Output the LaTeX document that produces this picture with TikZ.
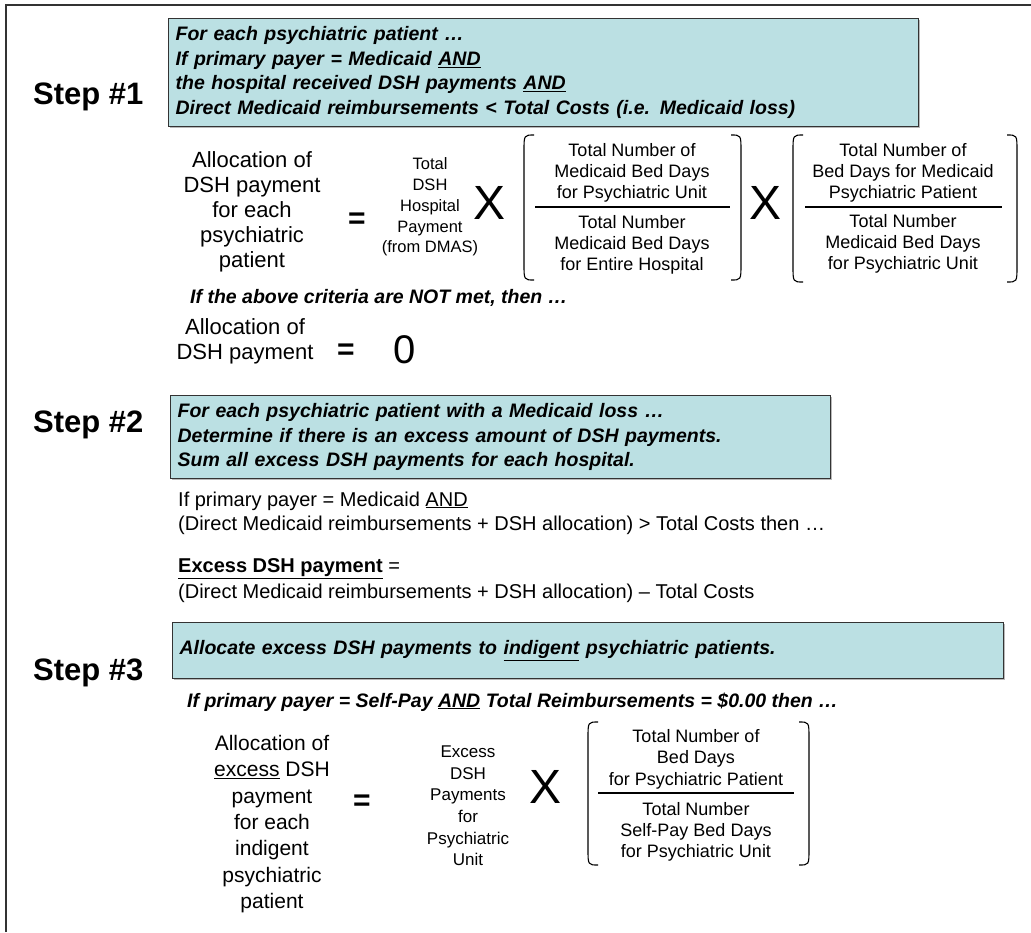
\documentclass[tikz,border=0pt]{standalone}
\usepackage{fontspec}
\setmainfont{Liberation Sans}
\usetikzlibrary{shadows}
\definecolor{boxfill}{HTML}{BBE0E3}
\newcommand\myfs[2]{\fontsize{#1}{#2}\selectfont}
\newcommand\lbrk[3]{\draw[brk] ({#1+10},#2) .. controls (#1,#2) .. (#1,{#2+16}) -- (#1,{#3-16}) .. controls (#1,#3) .. ({#1+10},#3);}
\newcommand\rbrk[3]{\draw[brk] ({#1-10},#2) .. controls (#1,#2) .. (#1,{#2+16}) -- (#1,{#3-16}) .. controls (#1,#3) .. ({#1-10},#3);}
\begin{document}
\begin{tikzpicture}[x=1pt,y=-1pt,
  steplabel/.style={anchor=base west, inner sep=0pt, font=\bfseries\myfs{31}{36}},
  stepbox/.style={draw=black!80, line width=1.2pt, fill=boxfill,
    drop shadow={shadow xshift=1.5pt, shadow yshift=-1.5pt, fill=black!55},
    anchor=north west, align=left, inner xsep=7pt, inner ysep=0pt,
    font=\bfseries\itshape\myfs{19.5}{24.5}},
  bigblk/.style={align=center, inner sep=0pt, font=\myfs{22}{25}},
  midblk/.style={align=center, inner sep=0pt, font=\myfs{18}{21}},
  smallblk/.style={align=center, inner sep=0pt, font=\myfs{16.5}{20.8}},
  eqsign/.style={inner sep=0pt, font=\bfseries\myfs{30}{30}},
  timessign/.style={inner sep=0pt, font=\myfs{48}{48}},
  plainline/.style={anchor=west, inner sep=0pt, font=\myfs{20}{24}},
  biline/.style={anchor=west, inner sep=0pt, font=\bfseries\itshape\myfs{19.5}{24}},
  fracline/.style={line width=2.6pt},
  brk/.style={line width=1.1pt}
]
\useasboundingbox (0,0) rectangle (1031,932);
% outer frame
\draw[line width=1.3pt, black!80] (6,932) -- (6,5) -- (1031,5);

% ---------- Step 1 ----------
\node[steplabel] (s1) at (33,104) {Step \#1};
\node[stepbox, minimum width=750pt, minimum height=108pt, text width=736pt] (b1) at (168,18)
 {For each psychiatric patient …\\
  If primary payer = Medicaid \underline{AND}\\
  the hospital received DSH payments \underline{AND}\\
  Direct Medicaid reimbursements < Total Costs (i.e. Medicaid loss)};

\node[bigblk] (a1) at (252,212) {Allocation of\\DSH payment\\for each\\psychiatric\\patient};
\node[eqsign] (e1) at (357,221) {=};
\node[smallblk] (t1) at (430,207) {Total\\DSH\\Hospital\\Payment\\(from DMAS)};
\node[timessign] (x1) at (490,203) {X};
\lbrk{524}{135}{280}
\node[midblk] (n1) at (632,173) {Total Number of\\Medicaid Bed Days\\for Psychiatric Unit};
\draw[fracline] (535,207) -- (730,207);
\node[midblk] (d1) at (632,245) {Total Number\\Medicaid Bed Days\\for Entire Hospital};
\rbrk{741}{135}{280}
\node[timessign] (x2) at (765,203) {X};
\lbrk{793}{135}{282}
\node[midblk] (n2) at (903,173) {Total Number of\\Bed Days for Medicaid\\Psychiatric Patient};
\draw[fracline] (805,207) -- (1002,207);
\node[midblk] (d2) at (903,244) {Total Number\\Medicaid Bed Days\\for Psychiatric Unit};
\rbrk{1017}{135}{282}

\node[biline] (c1) at (190,298) {If the above criteria are NOT met, then …};
\node[bigblk] (a0) at (245,341) {Allocation of\\DSH payment};
\node[eqsign] (e0) at (346,352) {=};
\node[inner sep=0pt, font=\myfs{40}{40}] (z0) at (405,350) {0};

% ---------- Step 2 ----------
\node[steplabel] (s2) at (33,432) {Step \#2};
\node[stepbox, minimum width=660pt, minimum height=83pt, text width=646pt] (b2) at (170,395)
 {For each psychiatric patient with a Medicaid loss …\\
  Determine if there is an excess amount of DSH payments.\\
  Sum all excess DSH payments for each hospital.};
\node[plainline] (p1) at (178,501) {If primary payer = Medicaid \underline{AND}};
\node[plainline] (p2) at (178,525) {(Direct Medicaid reimbursements + DSH allocation) > Total Costs then …};
\node[plainline] (p3) at (178,569) {\textbf{\underline{Excess DSH payment}} =};
\node[plainline] (p4) at (178,593) {(Direct Medicaid reimbursements + DSH allocation) – Total Costs};

% ---------- Step 3 ----------
\node[steplabel] (s3) at (33,680) {Step \#3};
\node[stepbox, minimum width=831pt, minimum height=56pt, text width=817pt] (b3) at (172,622)
 {Allocate excess DSH payments to \underline{indigent} psychiatric patients.};
\node[biline] (c3) at (187,702) {If primary payer = Self-Pay \underline{AND} Total Reimbursements = \$0.00 then …};

\node[bigblk, font=\myfs{21}{26.3}] (a3) at (272,824) {Allocation of\\\underline{excess} DSH\\payment\\for each\\indigent\\psychiatric\\patient};
\node[eqsign] (e3) at (362,803) {=};
\node[smallblk, font=\myfs{17}{21.6}] (t3) at (468,806) {Excess\\DSH\\Payments\\for\\Psychiatric\\Unit};
\node[timessign] (x3) at (546,787) {X};
\lbrk{588}{722}{865}
\node[midblk, font=\myfs{18}{21.5}] (n3) at (696,759) {Total Number of\\Bed Days\\for Psychiatric Patient};
\draw[fracline] (598,793) -- (794,793);
\node[midblk, font=\myfs{18}{21}] (d3) at (696,832) {Total Number\\Self-Pay Bed Days\\for Psychiatric Unit};
\rbrk{809}{722}{865}
\end{tikzpicture}
\end{document}
